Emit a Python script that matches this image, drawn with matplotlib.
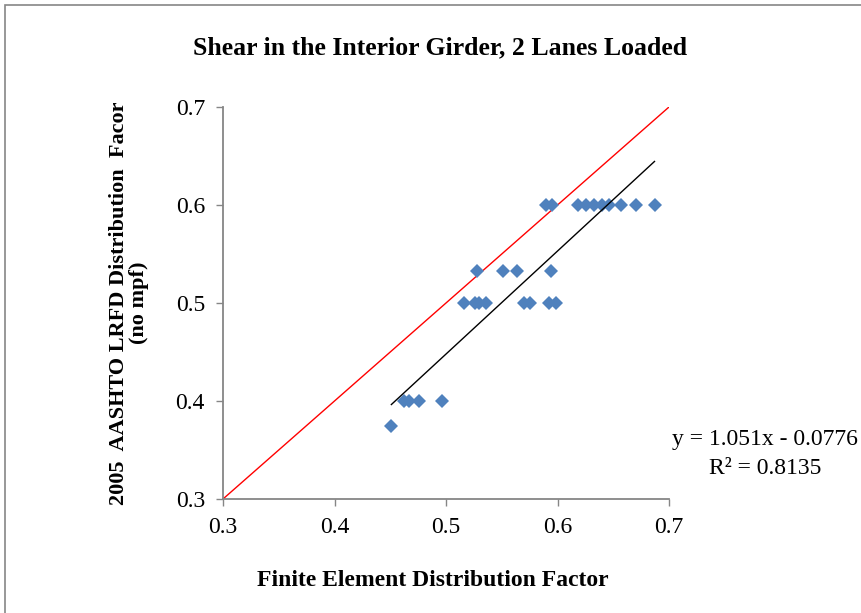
import matplotlib
matplotlib.use("Agg")
import matplotlib.pyplot as plt
import numpy as np
from matplotlib.patches import Rectangle

plt.rcParams['font.family'] = ['Liberation Serif', 'DejaVu Serif']

# Data
fe_df = [0.590, 0.595, 0.618, 0.626, 0.633, 0.640, 0.646, 0.657, 0.670, 0.687,
         0.528, 0.551, 0.564, 0.594,
         0.516, 0.526, 0.530, 0.536, 0.570, 0.575, 0.592, 0.599,
         0.462, 0.467, 0.476, 0.496,
         0.451]
aashto_df = [0.6] * 10 + [0.533] * 4 + [0.5] * 8 + [0.4] * 4 + [0.375]

trend_slope = 1.051
trend_intercept = -0.0776
trend_text = "y = 1.051x - 0.0776"
r2_text = "R² = 0.8135"

ticks = [0.3, 0.4, 0.5, 0.6, 0.7]
tick_labels = ["0.3", "0.4", "0.5", "0.6", "0.7"]

fig = plt.figure(figsize=(8.62, 6.13), dpi=100)
ax = fig.add_axes([223/862, 1 - 499/613, (669-223)/862, (499-107)/613])

# equality line
ax.plot([0.3, 0.7], [0.3, 0.7], color='#FF0000', lw=1.0, zorder=2)

# data
ax.plot(fe_df, aashto_df, linestyle='none', marker='D', markersize=7.6,
        color='#4F81BD', markeredgewidth=0, zorder=3)

# trendline
xt = np.array([min(fe_df), max(fe_df)])
ax.plot(xt, trend_slope * xt + trend_intercept, color='black', lw=1.0, zorder=4)

ax.set_xlim(0.3, 0.7)
ax.set_ylim(0.3, 0.7)
ax.set_xticks(ticks)
ax.set_xticklabels(tick_labels)
ax.set_yticks(ticks)
ax.set_yticklabels(tick_labels)
ax.tick_params(direction='out', length=5, width=1, color='#868686',
               labelsize=17, pad=8)
for s in ['top', 'right']:
    ax.spines[s].set_visible(False)
for s in ['left', 'bottom']:
    ax.spines[s].set_color('#868686')
    ax.spines[s].set_linewidth(1.3)

fig.text(440/862, 1 - 48/613, "Shear in the Interior Girder, 2 Lanes Loaded",
         ha='center', va='center', fontsize=18.5, fontweight='bold')
fig.text(433/862, 1 - 580/613, "Finite Element Distribution Factor",
         ha='center', va='center', fontsize=17, fontweight='bold')
fig.text(129/862, 1 - 303/613, "2005  AASHTO LRFD Distribution  Facor\n(no mpf)",
         ha='center', va='center', fontsize=16, fontweight='bold',
         rotation=90, linespacing=1.05, multialignment='center')

fig.text(765/862, 1 - 440/613, trend_text, ha='center', va='center', fontsize=17)
fig.text(765/862, 1 - 468/613, r2_text, ha='center', va='center', fontsize=17)

# outer chart border
fig.patches.append(Rectangle((5/862, -0.01), 1.0, 1 - 5/613 + 0.01,
                             transform=fig.transFigure, fill=False,
                             edgecolor='#868686', lw=1.2))

fig.savefig("out.png", dpi=100)
